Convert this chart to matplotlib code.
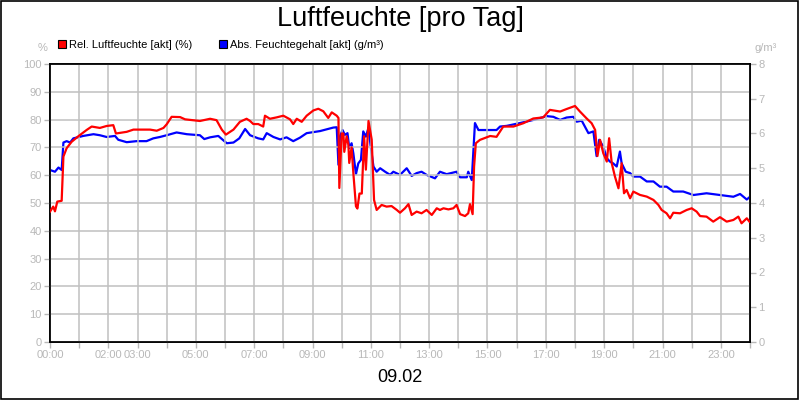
import matplotlib
matplotlib.use('Agg')
import matplotlib.pyplot as plt
from matplotlib.lines import Line2D

plt.rcParams['font.family'] = ['Liberation Sans', 'DejaVu Sans']

# relative humidity (%), hour of day
rel_hours = [0.0, 0.11, 0.17, 0.25, 0.40, 0.46, 0.57, 0.74, 0.97, 1.26, 1.43, 1.71, 1.94,
             2.17, 2.26, 2.63, 2.86, 3.43, 3.66, 3.89, 4.0, 4.17, 4.46, 4.63, 5.14, 5.49,
             5.71, 5.89, 6.03, 6.29, 6.51, 6.74, 6.86, 6.97, 7.14, 7.31, 7.37, 7.54, 7.77,
             8.0, 8.23, 8.34, 8.46, 8.63, 8.80, 9.03, 9.20, 9.37, 9.54, 9.66, 9.83, 9.89,
             9.92, 10.0, 10.06, 10.09, 10.17, 10.23, 10.26, 10.34, 10.40, 10.49, 10.54,
             10.61, 10.69, 10.77, 10.83, 10.92, 11.03, 11.11, 11.2, 11.37, 11.54, 11.71,
             11.89, 12.0, 12.17, 12.29, 12.4, 12.57, 12.74, 12.91, 13.09, 13.26, 13.37,
             13.49, 13.66, 13.83, 13.94, 14.06, 14.23, 14.34, 14.4, 14.49, 14.54, 14.6,
             14.74, 15.09, 15.31, 15.54, 15.89, 16.23, 16.57, 16.91, 17.14, 17.49, 17.71,
             18.0, 18.17, 18.4, 18.57, 18.69, 18.77, 18.86, 18.97, 19.09, 19.17, 19.26,
             19.37, 19.49, 19.6, 19.68, 19.77, 19.89, 20.0, 20.23, 20.46, 20.69, 20.86,
             20.97, 21.14, 21.26, 21.37, 21.6, 21.83, 22.0, 22.17, 22.29, 22.51, 22.74,
             22.97, 23.2, 23.43, 23.6, 23.71, 23.89, 23.98]
rel_values = [46.9, 48.7, 47.0, 50.5, 50.8, 66.7, 69.7, 72.0, 74.0, 76.3, 77.5, 77.0, 77.7,
              78.0, 75.0, 75.6, 76.4, 76.4, 76.0, 77.0, 78.3, 81.0, 80.9, 80.1, 79.5, 80.3,
              79.8, 76.4, 74.6, 76.4, 79.2, 80.3, 79.5, 78.4, 78.4, 77.5, 81.4, 80.3, 80.8,
              81.4, 80.1, 78.4, 80.3, 79.2, 81.4, 83.3, 83.9, 83.0, 80.6, 82.6, 81.4, 80.6,
              55.4, 75.0, 75.0, 68.4, 74.0, 71.0, 64.4, 70.0, 60.8, 48.8, 48.0,
              53.4, 53.4, 74.0, 62.0, 79.5, 72.8, 51.1, 47.5, 49.3, 48.7, 48.9,
              47.5, 46.5, 48.1, 49.6, 45.7, 46.9, 46.3, 47.5, 45.7, 48.1, 47.5,
              48.1, 47.7, 48.1, 49.3, 46.0, 45.3, 46.3, 49.6, 46.0, 63.1, 71.5,
              72.7, 74.1, 73.8, 77.5, 77.5, 78.7, 80.4, 80.8, 83.5, 82.9, 83.8,
              84.9, 82.9, 80.4, 78.7, 76.3, 66.9, 72.7, 67.9, 64.9, 73.3, 64.3,
              59.5, 55.3, 64.3, 53.5, 54.7, 51.7, 54.1, 52.9, 52.3, 51.1, 49.3,
              47.5, 46.3, 44.5, 46.5, 46.3, 47.5, 48.1, 46.9, 45.3, 45.1, 43.3,
              44.9, 43.3, 43.9, 45.1, 42.7, 44.5, 43.3]

# absolute humidity (g/m³), hour of day
abs_hours = [0.0, 0.17, 0.29, 0.4, 0.46, 0.57, 0.69, 0.8, 1.14, 1.49, 1.71, 1.94, 2.23, 2.34,
             2.63, 2.97, 3.31, 3.54, 3.77, 4.0, 4.34, 4.69, 5.14, 5.29, 5.49, 5.77, 6.06,
             6.29, 6.49, 6.69, 6.86, 7.14, 7.31, 7.43, 7.66, 7.89, 8.11, 8.34, 8.57, 8.8,
             9.26, 9.71, 9.83, 9.89, 9.94, 10.03, 10.11, 10.2, 10.26, 10.34, 10.4, 10.49,
             10.57, 10.66, 10.74, 10.83, 10.92, 11.0, 11.09, 11.2, 11.32, 11.49, 11.66,
             11.77, 12.0, 12.23, 12.4, 12.57, 12.74, 12.91, 13.2, 13.37, 13.6, 13.94,
             14.06, 14.29, 14.34, 14.46, 14.57, 14.69, 14.97, 15.31, 15.43, 15.66, 16.11,
             16.57, 17.03, 17.26, 17.49, 17.71, 17.94, 18.06, 18.23, 18.46, 18.63, 18.74,
             18.83, 18.97, 19.09, 19.2, 19.31, 19.43, 19.54, 19.6, 19.74, 19.89, 20.0,
             20.23, 20.46, 20.69, 20.91, 21.14, 21.37, 21.71, 22.06, 22.51, 22.97, 23.43,
             23.66, 23.89, 24.0]
abs_values = [4.95, 4.90, 5.02, 4.95, 5.74, 5.78, 5.74, 5.86, 5.93, 5.98, 5.95, 5.90, 5.93, 5.82,
              5.75, 5.78, 5.78, 5.86, 5.90, 5.95, 6.03, 5.98, 5.95, 5.84, 5.89, 5.93, 5.72,
              5.74, 5.86, 6.13, 5.95, 5.86, 5.83, 6.01, 5.90, 5.83, 5.89, 5.78, 5.88, 6.01,
              6.07, 6.17, 6.18, 5.10, 5.91, 6.10, 5.96, 6.01, 5.58, 5.72, 5.43, 4.83,
              5.14, 5.24, 6.06, 5.91, 6.16, 5.60, 5.05, 4.90, 5.00, 4.90, 4.81,
              4.90, 4.81, 5.00, 4.78, 4.86, 4.90, 4.81, 4.71, 4.90, 4.83, 4.90,
              4.74, 4.74, 4.90, 4.66, 6.30, 6.10, 6.10, 6.10, 6.20, 6.22, 6.30,
              6.39, 6.50, 6.48, 6.39, 6.46, 6.48, 6.34, 6.37, 6.01, 6.06, 5.35,
              5.82, 5.62, 5.29, 5.19, 5.14, 5.05, 5.48, 5.14, 4.90, 4.86, 4.76,
              4.76, 4.62, 4.62, 4.47, 4.47, 4.33, 4.33, 4.23, 4.28, 4.23, 4.18,
              4.26, 4.10, 4.18]

hour_ticks = list(range(25))
hour_labels = ['00:00', '', '02:00', '03:00', '', '05:00', '', '07:00', '', '09:00', '',
               '11:00', '', '13:00', '', '15:00', '', '17:00', '', '19:00', '', '21:00',
               '', '23:00', '']

grey = '#b8b8b8'
grid_grey = '#c0c0c0'

fig = plt.figure(figsize=(8, 4), dpi=100)
fig.patches.append(plt.Rectangle((0.001, 0.002), 0.997, 0.996, transform=fig.transFigure,
                                 fill=False, edgecolor='black', linewidth=1.2))
ax = fig.add_axes([0.0625, 0.145, 0.875, 0.695])
ax2 = ax.twinx()

ax.plot(rel_hours, rel_values, color='#ff0000', linewidth=1.6, zorder=3)
ax2.plot(abs_hours, abs_values, color='#0000ff', linewidth=1.6, zorder=2)
ax.set_zorder(ax2.get_zorder() + 1)
ax.patch.set_visible(False)

ax.set_xlim(0, 24)
ax.set_ylim(0, 100)
ax2.set_ylim(0, 8)
ax.set_yticks(range(0, 101, 10))
ax2.set_yticks(range(0, 9))
ax.set_xticks(hour_ticks)
ax.set_xticklabels(hour_labels)

ax.grid(True, color=grid_grey, linewidth=1.1)
ax.set_axisbelow(True)
for a in (ax, ax2):
    a.tick_params(colors=grey, labelcolor=grey, labelsize=8, length=4, width=1, pad=2)
    for s in a.spines.values():
        s.set_color('black')
        s.set_linewidth(1.2)

fig.text(0.5, 0.953, 'Luftfeuchte [pro Tag]', ha='center', va='center', fontsize=19.5)
fig.text(0.053, 0.88, '%', ha='center', va='center', fontsize=8, color=grey)
fig.text(0.957, 0.88, 'g/m³', ha='center', va='center', fontsize=8, color=grey)
fig.text(0.5, 0.055, '09.02', ha='center', va='center', fontsize=13)

handles = [Line2D([], [], ls='', marker='s', markersize=6, markerfacecolor='#ff0000',
                  markeredgecolor='black', markeredgewidth=0.8),
           Line2D([], [], ls='', marker='s', markersize=6, markerfacecolor='#0000ff',
                  markeredgecolor='black', markeredgewidth=0.8)]
fig.legend(handles, ['Rel. Luftfeuchte [akt] (%)', 'Abs. Feuchtegehalt [akt] (g/m³)'],
           loc='center left', bbox_to_anchor=(0.07, 0.888), ncol=2, frameon=False,
           fontsize=8, handletextpad=0.15, columnspacing=2.3, handlelength=1.0,
           borderpad=0, borderaxespad=0)

fig.savefig('out.png', dpi=100)
